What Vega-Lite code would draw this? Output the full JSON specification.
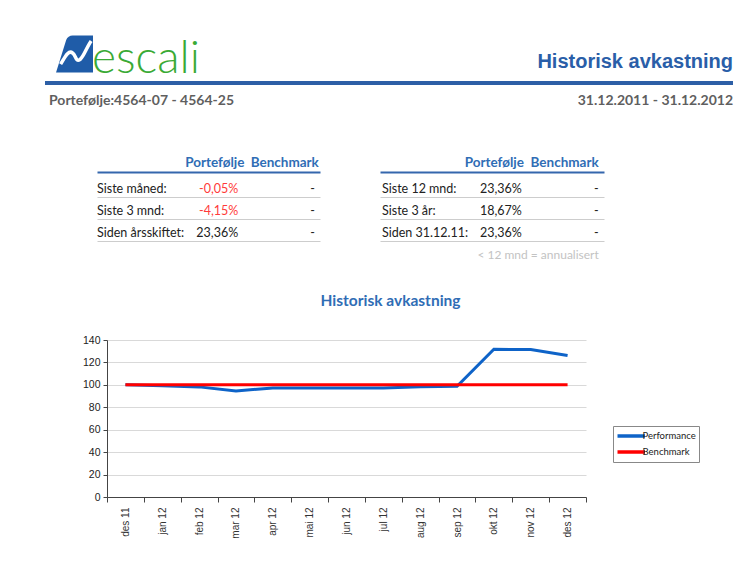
{
  "$schema": "https://vega.github.io/schema/vega-lite/v6.json",
  "background": "white",
  "padding": {"left": 43, "top": 12, "right": 0, "bottom": 0},
  "bounds": "flush",
  "spacing": 164,
  "config": {"view": {"stroke": null}, "font": "Liberation Sans"},
  "datasets": {
    "topp": [
      {"del": "logo", "side": "venstre", "rad": "1", "tekst": "escali"},
      {"del": "tittel", "side": "høyre", "rad": "1", "tekst": "Historisk avkastning"},
      {"del": "linje", "side": "venstre", "rad": "linje", "tekst": ""},
      {"del": "portefolje", "side": "venstre", "rad": "2", "tekst": "Portefølje:4564-07 - 4564-25"},
      {"del": "periode", "side": "høyre", "rad": "2", "tekst": "31.12.2011 - 31.12.2012"}
    ],
    "tabell": [
      {"tabell": "venstre", "rad": 1, "periode": "Siste måned:", "portefolje": "-0,05%", "benchmark": "-"},
      {"tabell": "venstre", "rad": 2, "periode": "Siste 3 mnd:", "portefolje": "-4,15%", "benchmark": "-"},
      {"tabell": "venstre", "rad": 3, "periode": "Siden årsskiftet:", "portefolje": "23,36%", "benchmark": "-"},
      {"tabell": "høyre", "rad": 1, "periode": "Siste 12 mnd:", "portefolje": "23,36%", "benchmark": "-"},
      {"tabell": "høyre", "rad": 2, "periode": "Siste 3 år:", "portefolje": "18,67%", "benchmark": "-"},
      {"tabell": "høyre", "rad": 3, "periode": "Siden 31.12.11:", "portefolje": "23,36%", "benchmark": "-"}
    ],
    "avkastning": [
      {"maaned": "des 11", "serie": "Performance", "verdi": 100},
      {"maaned": "jan 12", "serie": "Performance", "verdi": 99.3},
      {"maaned": "feb 12", "serie": "Performance", "verdi": 98.2},
      {"maaned": "mar 12", "serie": "Performance", "verdi": 94.6},
      {"maaned": "apr 12", "serie": "Performance", "verdi": 97.2},
      {"maaned": "mai 12", "serie": "Performance", "verdi": 97.3},
      {"maaned": "jun 12", "serie": "Performance", "verdi": 97.1},
      {"maaned": "jul 12", "serie": "Performance", "verdi": 97.3},
      {"maaned": "aug 12", "serie": "Performance", "verdi": 98.3},
      {"maaned": "sep 12", "serie": "Performance", "verdi": 98.8},
      {"maaned": "okt 12", "serie": "Performance", "verdi": 131.7},
      {"maaned": "nov 12", "serie": "Performance", "verdi": 131.5},
      {"maaned": "des 12", "serie": "Performance", "verdi": 126.1},
      {"maaned": "des 11", "serie": "Benchmark", "verdi": 100},
      {"maaned": "jan 12", "serie": "Benchmark", "verdi": 100},
      {"maaned": "feb 12", "serie": "Benchmark", "verdi": 100},
      {"maaned": "mar 12", "serie": "Benchmark", "verdi": 100},
      {"maaned": "apr 12", "serie": "Benchmark", "verdi": 100},
      {"maaned": "mai 12", "serie": "Benchmark", "verdi": 100},
      {"maaned": "jun 12", "serie": "Benchmark", "verdi": 100},
      {"maaned": "jul 12", "serie": "Benchmark", "verdi": 100},
      {"maaned": "aug 12", "serie": "Benchmark", "verdi": 100},
      {"maaned": "sep 12", "serie": "Benchmark", "verdi": 100},
      {"maaned": "okt 12", "serie": "Benchmark", "verdi": 100},
      {"maaned": "nov 12", "serie": "Benchmark", "verdi": 100},
      {"maaned": "des 12", "serie": "Benchmark", "verdi": 100}
    ]
  },
  "vconcat": [
    {
      "hconcat": [
        {
          "width": 688,
          "height": 98.5,
          "data": {"name": "topp"},
          "encoding": {
            "x": {"field": "side", "type": "nominal", "scale": {"type": "point", "domain": ["venstre", "høyre"], "padding": 0}, "axis": null},
            "y": {"field": "rad", "type": "nominal", "scale": {"type": "point", "domain": ["1", "linje", "2"], "padding": 1.2907, "align": 0.811}, "axis": null}
          },
          "layer": [
            {
              "transform": [{"filter": "datum.del === 'logo'"}],
              "mark": {"type": "point", "shape": "M-1,1 L-0.45,-0.75 Q-0.35,-1 -0.1,-1 L1,-1 L1,1 Z", "filled": true, "color": "#1f5ca8", "opacity": 1, "size": 1369, "xOffset": 29.5, "yOffset": 2}
            },
            {
              "transform": [{"filter": "datum.del === 'logo'"}],
              "mark": {"type": "point", "shape": "M-0.75,0.55 C-0.55,0.25 -0.35,-0.25 -0.1,-0.05 C0.1,0.1 0.05,0.45 0.3,0.3 C0.5,0.15 0.65,-0.35 0.9,-0.7", "filled": false, "stroke": "white", "strokeWidth": 3.5, "opacity": 1, "size": 1369, "xOffset": 29.5, "yOffset": 2}
            },
            {
              "transform": [{"filter": "datum.del === 'logo'"}],
              "mark": {"type": "text", "align": "left", "baseline": "alphabetic", "font": "Lato", "fontWeight": 300, "fontSize": 46, "color": "#3aaa35", "dx": 47, "dy": 21},
              "encoding": {"text": {"field": "tekst"}}
            },
            {
              "transform": [{"filter": "datum.del === 'tittel'"}],
              "mark": {"type": "text", "align": "right", "baseline": "middle", "font": "Liberation Sans", "fontWeight": "bold", "fontSize": 20, "color": "#2a5ea8", "dy": 10},
              "encoding": {"text": {"field": "tekst"}}
            },
            {
              "transform": [{"filter": "datum.del === 'linje'"}],
              "mark": {"type": "rule", "color": "#2d5fa6", "strokeWidth": 4, "yOffset": 6.5},
              "encoding": {"x2": {"datum": "høyre"}}
            },
            {
              "transform": [{"filter": "datum.del === 'portefolje'"}],
              "mark": {"type": "text", "align": "left", "baseline": "middle", "font": "Lato", "fontWeight": "bold", "fontSize": 14, "color": "#5f5f5f", "dx": 4},
              "encoding": {"text": {"field": "tekst"}}
            },
            {
              "transform": [{"filter": "datum.del === 'periode'"}],
              "mark": {"type": "text", "align": "right", "baseline": "middle", "font": "Lato", "fontWeight": "bold", "fontSize": 14, "color": "#5f5f5f"},
              "encoding": {"text": {"field": "tekst"}}
            }
          ]
        }
      ],
      "bounds": "flush"
    },
    {
      "hconcat": [
        {"width": 52, "height": 10, "data": {"values": []}, "mark": "point"},
        {
          "width": 223,
          "height": 98.5,
          "data": {"name": "tabell"},
          "transform": [{"filter": "datum.tabell === 'venstre'"}],
          "encoding": {
            "y": {"field": "rad", "type": "ordinal", "scale": {"type": "band", "domain": [1, 2, 3, 4], "paddingInner": 0, "paddingOuter": 0.239, "align": 0}, "axis": {"values": [1, 2, 3], "bandPosition": 1, "grid": true, "gridColor": "#cdcdcd", "labels": false, "ticks": false, "domain": false, "title": null}}
          },
          "layer": [
            {
              "mark": {"type": "text", "align": "left", "baseline": "middle", "font": "Lato", "fontSize": 12.5, "color": "#222", "dy": 2},
              "encoding": {
                "x": {"datum": "Periode", "type": "nominal", "bandPosition": 0, "scale": {"type": "band", "domain": ["Periode", "Portefølje", "Benchmark"], "paddingInner": 0, "paddingOuter": 0}, "axis": {"orient": "top", "values": ["Portefølje", "Benchmark"], "labelAlign": "right", "labelBaseline": "bottom", "labelAngle": 0, "labelOffset": 36, "labelFont": "Lato", "labelFontWeight": "bold", "labelFontSize": 13.5, "labelColor": "#2f6db5", "labelPadding": 3, "ticks": false, "domain": true, "domainColor": "#3567ad", "domainWidth": 2, "offset": 4, "grid": false, "title": null}},
                "text": {"field": "periode"}
              }
            },
            {
              "mark": {"type": "text", "align": "right", "baseline": "middle", "font": "Lato", "fontSize": 12.5, "dy": 2},
              "encoding": {
                "x": {"datum": "Portefølje", "type": "nominal", "bandPosition": 0.9},
                "text": {"field": "portefolje"},
                "color": {"condition": {"test": "length(datum.portefolje) > 1 && indexof(datum.portefolje, '-') === 0", "value": "#ff3b3b"}, "value": "#222"}
              }
            },
            {
              "mark": {"type": "text", "align": "right", "baseline": "middle", "font": "Lato", "fontSize": 12.5, "color": "#222", "dy": 2},
              "encoding": {
                "x": {"datum": "Benchmark", "type": "nominal", "bandPosition": 0.93},
                "text": {"field": "benchmark"}
              }
            }
          ]
        },
        {"width": 60, "height": 10, "data": {"values": []}, "mark": "point"},
        {
          "width": 224,
          "height": 98.5,
          "data": {"name": "tabell"},
          "transform": [{"filter": "datum.tabell === 'høyre'"}],
          "encoding": {
            "y": {"field": "rad", "type": "ordinal", "scale": {"type": "band", "domain": [1, 2, 3, 4], "paddingInner": 0, "paddingOuter": 0.239, "align": 0}, "axis": {"values": [1, 2, 3], "bandPosition": 1, "grid": true, "gridColor": "#cdcdcd", "labels": false, "ticks": false, "domain": false, "title": null}}
          },
          "layer": [
            {
              "mark": {"type": "text", "align": "left", "baseline": "middle", "font": "Lato", "fontSize": 12.5, "color": "#222", "dx": 2, "dy": 2},
              "encoding": {
                "x": {"datum": "Periode", "type": "nominal", "bandPosition": 0, "scale": {"type": "band", "domain": ["Periode", "Portefølje", "Benchmark"], "paddingInner": 0, "paddingOuter": 0}, "axis": {"orient": "top", "values": ["Portefølje", "Benchmark"], "labelAlign": "right", "labelBaseline": "bottom", "labelAngle": 0, "labelOffset": 32, "labelFont": "Lato", "labelFontWeight": "bold", "labelFontSize": 13.5, "labelColor": "#2f6db5", "labelPadding": 3, "ticks": false, "domain": true, "domainColor": "#3567ad", "domainWidth": 2, "offset": 4, "grid": false, "title": null}},
                "text": {"field": "periode"}
              }
            },
            {
              "mark": {"type": "text", "align": "right", "baseline": "middle", "font": "Lato", "fontSize": 12.5, "dy": 2},
              "encoding": {
                "x": {"datum": "Portefølje", "type": "nominal", "bandPosition": 0.9},
                "text": {"field": "portefolje"},
                "color": {"condition": {"test": "length(datum.portefolje) > 1 && indexof(datum.portefolje, '-') === 0", "value": "#ff3b3b"}, "value": "#222"}
              }
            },
            {
              "mark": {"type": "text", "align": "right", "baseline": "middle", "font": "Lato", "fontSize": 12.5, "color": "#222", "dy": 2},
              "encoding": {
                "x": {"datum": "Benchmark", "type": "nominal", "bandPosition": 0.93},
                "text": {"field": "benchmark"}
              }
            },
            {
              "transform": [{"filter": "datum.rad === 1"}],
              "mark": {"type": "text", "align": "right", "baseline": "middle", "font": "Lato", "fontSize": 12, "color": "#c3c3c3", "dy": 2},
              "encoding": {
                "x": {"datum": "Benchmark", "type": "nominal", "bandPosition": 0.93},
                "y": {"datum": 4, "type": "ordinal"},
                "text": {"value": "< 12 mnd = annualisert"}
              }
            }
          ]
        }
      ],
      "spacing": 0,
      "bounds": "flush"
    },
    {
      "hconcat": [
        {"width": 62, "height": 10, "data": {"values": []}, "mark": "point"},
        {
          "width": 479,
          "height": 157,
          "title": {"text": "Historisk avkastning", "font": "Lato", "fontSize": 15.5, "fontWeight": "bold", "color": "#2f6db5", "anchor": "middle", "dx": 44, "offset": 26},
          "data": {"name": "avkastning"},
          "mark": {"type": "line", "strokeWidth": 3},
          "encoding": {
            "x": {
              "field": "maaned", "type": "ordinal", "bandPosition": 0.5,
              "sort": ["des 11", "jan 12", "feb 12", "mar 12", "apr 12", "mai 12", "jun 12", "jul 12", "aug 12", "sep 12", "okt 12", "nov 12", "des 12"],
              "scale": {"type": "band", "paddingInner": 0, "paddingOuter": 0},
              "axis": {"labelAngle": 270, "tickBand": "extent", "tickSize": 5, "tickColor": "#444", "domainColor": "#444", "labelFontSize": 10, "labelColor": "#333", "labelPadding": 5, "title": null, "grid": false}
            },
            "y": {
              "field": "verdi", "type": "quantitative",
              "scale": {"domain": [0, 140]},
              "axis": {"values": [0, 20, 40, 60, 80, 100, 120, 140], "grid": true, "gridColor": "#d9d9d9", "domainColor": "#444", "tickColor": "#444", "tickSize": 4, "labelFontSize": 10.5, "labelColor": "#222", "labelPadding": 3, "title": null}
            },
            "color": {
              "field": "serie", "type": "nominal",
              "scale": {"domain": ["Performance", "Benchmark"], "range": ["#0e63c8", "#ff0000"]},
              "legend": {"orient": "none", "legendX": 568, "legendY": 414, "title": null, "strokeColor": "#888", "fillColor": "white", "padding": 2.5, "symbolType": "M-1,0 L4,0", "symbolStrokeWidth": 3.5, "symbolSize": 121, "labelFont": "Lato", "labelFontSize": 9.5, "labelColor": "#222", "rowPadding": 1, "labelOffset": 12}
            }
          }
        }
      ],
      "spacing": 0,
      "bounds": "flush"
    }
  ]
}
